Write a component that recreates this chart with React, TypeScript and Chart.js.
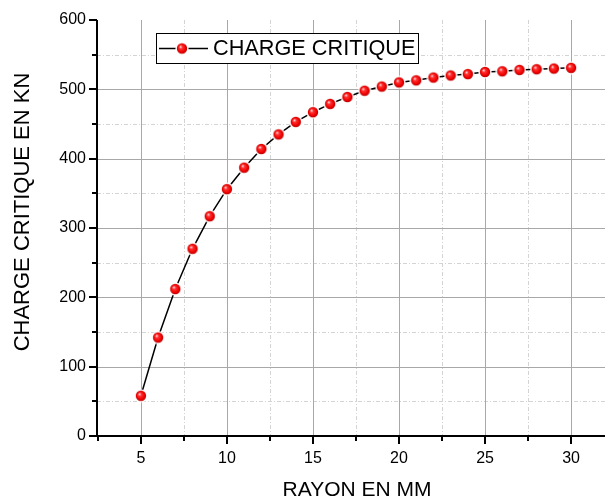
import React, { useEffect, useRef } from "react";
import { Chart, registerables } from "chart.js";

Chart.register(...registerables);

const radius = [5, 6, 7, 8, 9, 10, 11, 12, 13, 14, 15, 16, 17, 18, 19, 20, 21, 22, 23, 24, 25, 26, 27, 28, 29, 30];
const charge = [58, 142, 212, 270, 317, 356, 387, 414, 435, 453, 467, 479, 489, 498, 504, 510, 513, 517, 520, 522, 525, 526, 528, 529, 530, 531];
const xMajorTicks = [5, 10, 15, 20, 25, 30];
const xMinorTicks = [2.5, 7.5, 12.5, 17.5, 22.5, 27.5];
const yMajorTicks = [0, 100, 200, 300, 400, 500, 600];
const yMinorTicks = [50, 150, 250, 350, 450, 550];
const seriesLabel = "CHARGE CRITIQUE";
const xTitle = "RAYON EN MM";
const yTitle = "CHARGE CRITIQUE EN KN";

const FONT = "'Liberation Sans', Arial, sans-serif";

function makeSphere(): HTMLCanvasElement {
  const c = document.createElement("canvas");
  c.width = 14;
  c.height = 14;
  const g = c.getContext("2d")!;
  const cx = 7, cy = 7;
  g.fillStyle = "#ffffff";
  g.beginPath();
  g.arc(cx, cy, 6.6, 0, Math.PI * 2);
  g.fill();
  const grad = g.createRadialGradient(cx - 1.6, cy - 1.8, 0.3, cx, cy, 5.2);
  grad.addColorStop(0, "#ffd8d8");
  grad.addColorStop(0.3, "#ff3030");
  grad.addColorStop(0.75, "#f00000");
  grad.addColorStop(1, "#b80000");
  g.fillStyle = grad;
  g.beginPath();
  g.arc(cx, cy, 5.2, 0, Math.PI * 2);
  g.fill();
  return c;
}

export default function App() {
  const ref = useRef<HTMLCanvasElement | null>(null);
  useEffect(() => {
    if (!ref.current) return;
    const sphere = makeSphere();

    const gridPlugin = {
      id: "originGrid",
      beforeDatasetsDraw(chart: any) {
        const { ctx, chartArea: a, scales } = chart;
        const xs = scales.x, ys = scales.y;
        ctx.save();
        ctx.strokeStyle = "#d4d4d4";
        ctx.lineWidth = 1;
        ctx.setLineDash([4, 2, 1, 2]);
        xMinorTicks.forEach((v) => {
          const px = Math.round(xs.getPixelForValue(v)) + 0.5;
          if (px <= a.left + 2) return;
          ctx.beginPath();
          ctx.moveTo(px, a.top);
          ctx.lineTo(px, a.bottom);
          ctx.stroke();
        });
        yMinorTicks.forEach((v) => {
          const py = Math.round(ys.getPixelForValue(v)) + 0.5;
          ctx.beginPath();
          ctx.moveTo(a.left, py);
          ctx.lineTo(a.right, py);
          ctx.stroke();
        });
        ctx.setLineDash([]);
        ctx.strokeStyle = "#a8a8a8";
        xMajorTicks.forEach((v) => {
          const px = Math.round(xs.getPixelForValue(v)) + 0.5;
          ctx.beginPath();
          ctx.moveTo(px, a.top);
          ctx.lineTo(px, a.bottom);
          ctx.stroke();
        });
        yMajorTicks.forEach((v) => {
          if (v === 0 || v === 600) return;
          const py = Math.round(ys.getPixelForValue(v)) + 0.5;
          ctx.beginPath();
          ctx.moveTo(a.left, py);
          ctx.lineTo(a.right, py);
          ctx.stroke();
        });
        ctx.restore();
      },
      afterDatasetsDraw(chart: any) {
        const { ctx, chartArea: a, scales } = chart;
        const xs = scales.x, ys = scales.y;
        ctx.save();
        ctx.strokeStyle = "#000";
        ctx.lineWidth = 2;
        ctx.beginPath();
        ctx.moveTo(a.left, a.top);
        ctx.lineTo(a.left, a.bottom + 1);
        ctx.moveTo(a.left - 1, a.bottom);
        ctx.lineTo(a.right, a.bottom);
        ctx.stroke();
        ctx.beginPath();
        xMajorTicks.forEach((v) => {
          const px = Math.round(xs.getPixelForValue(v));
          ctx.moveTo(px, a.bottom);
          ctx.lineTo(px, a.bottom + 8);
        });
        xMinorTicks.forEach((v) => {
          const px = Math.round(xs.getPixelForValue(v));
          ctx.moveTo(px, a.bottom);
          ctx.lineTo(px, a.bottom + 5);
        });
        yMajorTicks.forEach((v) => {
          const py = Math.round(ys.getPixelForValue(v));
          ctx.moveTo(a.left, py);
          ctx.lineTo(a.left - 8, py);
        });
        yMinorTicks.forEach((v) => {
          const py = Math.round(ys.getPixelForValue(v));
          ctx.moveTo(a.left, py);
          ctx.lineTo(a.left - 5, py);
        });
        ctx.stroke();

        ctx.fillStyle = "#000";
        ctx.textAlign = "center";
        ctx.textBaseline = "middle";
        ctx.font = `21px ${FONT}`;
        ctx.fillText(xTitle, 357, 490);
        ctx.save();
        ctx.translate(23, 212);
        ctx.rotate(-Math.PI / 2);
        ctx.font = `22px ${FONT}`;
        ctx.fillText(yTitle, 0, 0);
        ctx.restore();

        ctx.fillStyle = "#fff";
        ctx.fillRect(156.5, 33.5, 262, 30);
        ctx.lineWidth = 1;
        ctx.strokeStyle = "#000";
        ctx.strokeRect(156.5, 33.5, 262, 30);
        ctx.lineWidth = 1.5;
        ctx.beginPath();
        ctx.moveTo(159, 48.5);
        ctx.lineTo(208, 48.5);
        ctx.stroke();
        ctx.drawImage(sphere, 182 - 7, 48.5 - 7);
        ctx.fillStyle = "#000";
        ctx.textAlign = "left";
        ctx.textBaseline = "middle";
        ctx.font = `21.7px ${FONT}`;
        ctx.fillText(chart.data.datasets[0].label, 213, 49);
        ctx.restore();
      },
    };

    const chart = new Chart(ref.current, {
      type: "line",
      data: {
        datasets: [
          {
            label: seriesLabel,
            data: radius.map((r, i) => ({ x: r, y: charge[i] })),
            borderColor: "#000",
            borderWidth: 1.5,
            pointStyle: sphere as any,
            pointRadius: 5,
            pointHoverRadius: 5,
            tension: 0,
            fill: false,
          },
        ],
      },
      options: {
        animation: false,
        responsive: true,
        maintainAspectRatio: false,
        layout: { autoPadding: false, padding: { top: 20, left: 0, right: 0, bottom: 0 } },
        plugins: { legend: { display: false }, tooltip: { enabled: false } },
        scales: {
          x: {
            type: "linear",
            min: 2.45,
            max: 31.97,
            afterBuildTicks: (s: any) => {
              s.ticks = xMajorTicks.map((v) => ({ value: v }));
            },
            afterFit: (s: any) => {
              s.height = 65;
              s.paddingLeft = 0;
              s.paddingRight = 0;
            },
            grid: { display: false, drawTicks: false },
            border: { display: false },
            ticks: {
              color: "#000",
              font: { family: FONT, size: 16 },
              padding: 13,
              maxRotation: 0,
            },
          },
          y: {
            type: "linear",
            min: 0,
            max: 600,
            afterBuildTicks: (s: any) => {
              s.ticks = yMajorTicks.map((v) => ({ value: v }));
            },
            afterFit: (s: any) => {
              s.width = 97;
              s.paddingTop = 0;
              s.paddingBottom = 0;
            },
            grid: { display: false, drawTicks: false },
            border: { display: false },
            ticks: {
              color: "#000",
              font: { family: FONT, size: 16 },
              padding: 11,
            },
          },
        },
      },
      plugins: [gridPlugin],
    });
    return () => chart.destroy();
  }, []);

  return (
    <div style={{ position: "fixed", left: 0, top: 0, width: 605, height: 501, background: "#fff" }}>
      <canvas ref={ref} />
    </div>
  );
}
